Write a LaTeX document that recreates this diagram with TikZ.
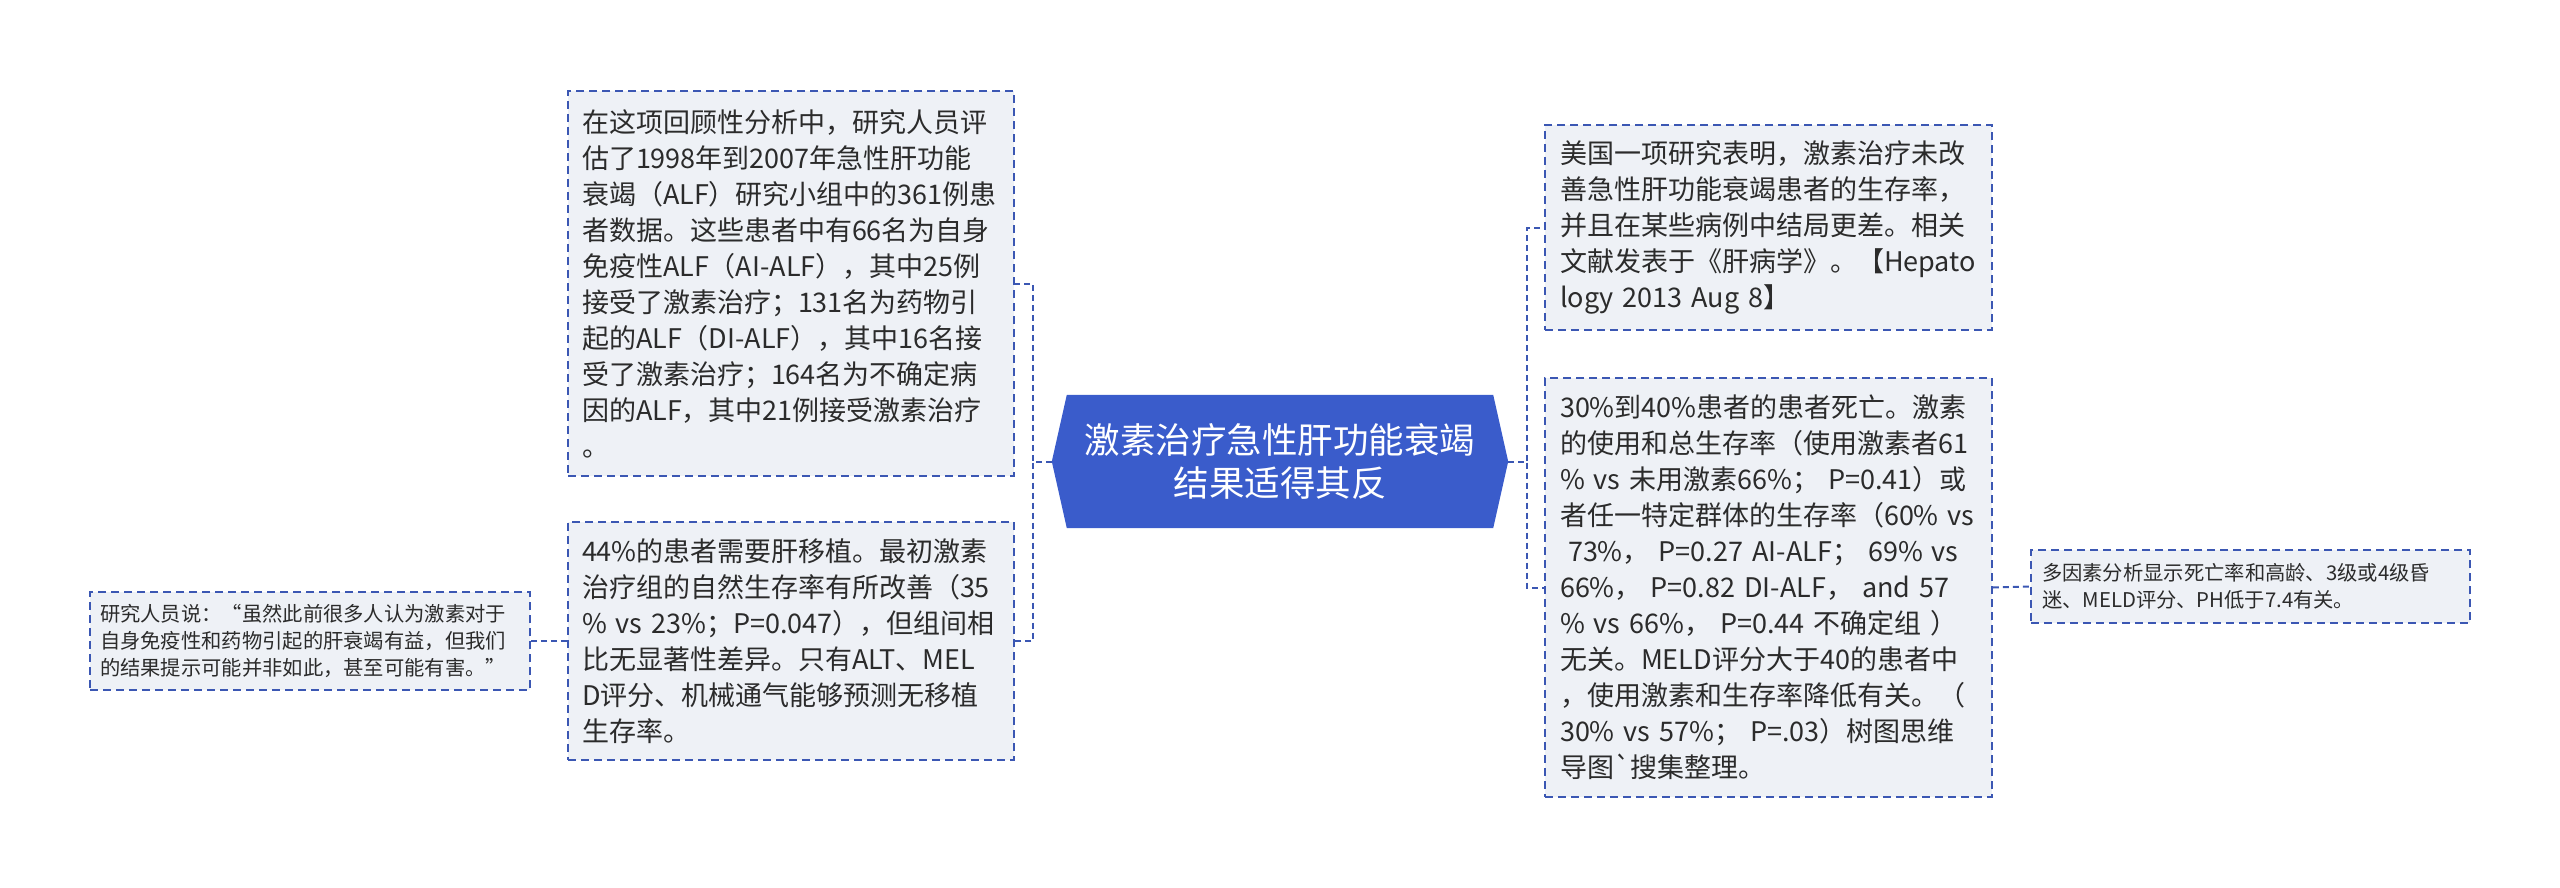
\documentclass[tikz,border=0pt]{standalone}
\usepackage{fontspec}
\setmainfont{Noto Sans CJK SC}[Ligatures=TeXOff]
\usetikzlibrary{backgrounds}
\definecolor{bfill}{HTML}{EEF1F6}
\definecolor{bline}{HTML}{3B57B3}
\definecolor{cfill}{HTML}{3A5CCB}
\definecolor{txt}{HTML}{2B2B2B}
\begin{document}
\begin{tikzpicture}[x=1pt,y=-1pt,
  box/.style={draw=bline, line width=1.8pt, dash pattern=on 8pt off 5pt, fill=bfill, text=txt,
    align=left, inner ysep=0pt, font=\fontsize{27}{36}\selectfont},
  smallbox/.style={box, font=\fontsize{20.3}{27}\selectfont},
  link/.style={draw=bline, line width=2pt, dash pattern=on 6pt off 4pt}]
\useasboundingbox (0,0) rectangle (2560,888);

\node[box, inner xsep=14pt, text width=418pt, minimum height=385pt] (b1) at (791,283.5)
 {在这项回顾性分析中，研究人员评\\
  估了1998年到2007年急性肝功能\\
  衰竭（ALF）研究小组中的361例患\\
  者数据。这些患者中有66名为自身\\
  免疫性ALF（AI-ALF），其中25例\\
  接受了激素治疗；131名为药物引\\
  起的ALF（DI-ALF），其中16名接\\
  受了激素治疗；164名为不确定病\\
  因的ALF，其中21例接受激素治疗\\
  。};

\node[box, inner xsep=14pt, text width=418pt, minimum height=238pt] (b2) at (791,641)
 {44\%的患者需要肝移植。最初激素\\
  治疗组的自然生存率有所改善（35\\
  \%~vs~23\%；P=0.047），但组间相\\
  比无显著性差异。只有ALT、MEL\\
  D评分、机械通气能够预测无移植\\
  生存率。};

\node[smallbox, inner xsep=10pt, text width=420pt, minimum height=98pt] (bL) at (310,641)
 {研究人员说：“虽然此前很多人认为激素对于\\
  自身免疫性和药物引起的肝衰竭有益，但我们\\
  的结果提示可能并非如此，甚至可能有害。”};

\node[font=\fontsize{35.5}{43}\selectfont, text=white, align=center, minimum width=426pt,
  minimum height=133pt, inner sep=0pt] (c) at (1280,461.5)
 {激素治疗急性肝功能衰竭\\结果适得其反};
\begin{scope}[on background layer]
\fill[cfill] (c.north west) -- (c.north east) -- ([xshift=15pt]c.east) -- (c.south east)
  -- (c.south west) -- ([xshift=-15pt]c.west) -- cycle;
\end{scope}
\coordinate (cl) at ([xshift=-15pt]c.west);
\coordinate (cr) at ([xshift=15pt]c.east);

\node[box, inner xsep=15pt, text width=417pt, minimum height=205pt] (b3) at (1768.5,227.5)
 {美国一项研究表明，激素治疗未改\\
  善急性肝功能衰竭患者的生存率，\\
  并且在某些病例中结局更差。相关\\
  文献发表于《肝病学》。【Hepato\\
  logy~2013~Aug~8】};

\node[box, inner xsep=15pt, text width=417pt, minimum height=419pt] (b4) at (1768.5,587.5)
 {30\%到40\%患者的患者死亡。激素\\
  的使用和总生存率（使用激素者61\\
  \%~vs~未用激素66\%；~P=0.41）或\\
  者任一特定群体的生存率（60\%~vs\\
  \hspace*{8pt}73\%，~P=0.27~AI-ALF；~69\%~vs\\
  66\%，~P=0.82~DI-ALF，~and~57\\
  \%~vs~66\%，~P=0.44~不确定组~）\\
  无关。MELD评分大于40的患者中\\
  ，使用激素和生存率降低有关。（\\
  30\%~vs~57\%；~P=.03）树图思维\\
  导图`搜集整理。};

\node[smallbox, inner xsep=11pt, text width=417pt, minimum height=73pt] (b5) at (2250.5,586.5)
 {多因素分析显示死亡率和高龄、3级或4级昏\\
  迷、MELD评分、PH低于7.4有关。};

\draw[link] (cl) -- ++(-19,0) |- (b1.east);
\draw[link] (cl) -- ++(-19,0) |- (b2.east);
\draw[link] (cr) -- ++(19,0) |- (b3.west);
\draw[link] (cr) -- ++(19,0) |- (b4.west);
\draw[link] (b4.east) -- (b5.west);
\draw[link] (b2.west) -- (bL.east);
\end{tikzpicture}
\end{document}
